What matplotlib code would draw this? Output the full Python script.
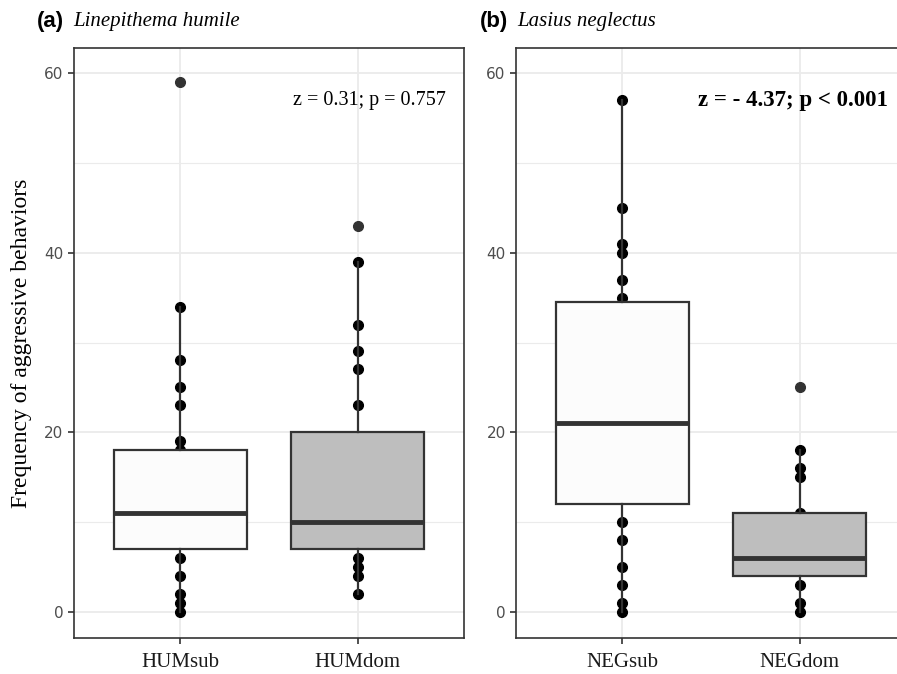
import matplotlib
matplotlib.use('Agg')
import matplotlib.pyplot as plt

# Valeurs
hum_labels = ['HUMsub', 'HUMdom']
neg_labels = ['NEGsub', 'NEGdom']

# statistiques des boîtes: q1, médiane, q3, moustache basse, moustache haute
hum_q1 = [7, 7]
hum_med = [11, 10]
hum_q3 = [18, 20]
hum_wlo = [0, 2]
hum_whi = [34, 39]
hum_out = [[59], [43]]

neg_q1 = [12, 4]
neg_med = [21, 6]
neg_q3 = [34.5, 11]
neg_wlo = [0, 0]
neg_whi = [57, 18]
neg_out = [[], [25]]

# points individuels visibles
hum_sub_pts = [0, 1, 2, 4, 6, 18, 19, 23, 25, 28, 34]
hum_dom_pts = [2, 4, 5, 6, 23, 27, 29, 32, 39]
neg_sub_pts = [0, 1, 3, 5, 8, 10, 35, 37, 40, 41, 45, 57]
neg_dom_pts = [0, 1, 3, 11, 15, 16, 18]

hum_note = 'z = 0.31; p = 0.757'
neg_note = 'z = - 4.37; p < 0.001'

fills = ['#FCFCFC', '#BEBEBE']
dark = '#333333'


def draw_panel(ax, labels, q1, med, q3, wlo, whi, outl, pts, note, bold):
    stats = []
    for i in range(len(labels)):
        stats.append({'q1': q1[i], 'med': med[i], 'q3': q3[i],
                      'whislo': wlo[i], 'whishi': whi[i], 'fliers': outl[i]})
    # points sous les boîtes
    for i, p in enumerate(pts):
        ax.plot([i + 1] * len(p), p, 'o', color='black', ms=7, zorder=2)
    bp = ax.bxp(stats, positions=[1, 2], widths=0.75, patch_artist=True,
                showcaps=False, zorder=3,
                boxprops=dict(edgecolor=dark, linewidth=1.6),
                whiskerprops=dict(color=dark, linewidth=1.6),
                medianprops=dict(color=dark, linewidth=3.5),
                flierprops=dict(marker='o', markerfacecolor=dark,
                                markeredgecolor=dark, markersize=7))
    for patch, c in zip(bp['boxes'], fills):
        patch.set_facecolor(c)

    ax.set_xlim(0.4, 2.6)
    ax.set_ylim(-2.93, 62.85)
    ax.set_xticks([1, 2])
    ax.set_yticks([0, 20, 40, 60])
    ax.set_yticks([10, 30, 50], minor=True)
    ax.tick_params(axis='y', which='minor', length=0)
    ax.tick_params(axis='both', which='major', length=4, width=1.2,
                   color=dark)
    ax.tick_params(axis='y', labelcolor='#4D4D4D', labelsize=11)
    ax.set_xticklabels(labels, fontfamily='Liberation Serif', fontsize=15,
                       color='#1A1A1A')
    ax.tick_params(axis='x', pad=7)
    ax.grid(True, which='major', color='#EBEBEB', linewidth=1.3, zorder=0)
    ax.grid(True, which='minor', axis='y', color='#EBEBEB', linewidth=0.8,
            zorder=0)
    ax.set_axisbelow(True)
    for s in ax.spines.values():
        s.set_color(dark)
        s.set_linewidth(1.2)
    ax.text(2.5, 57, note, ha='right', va='center',
            fontfamily='Liberation Serif', fontsize=16.5 if bold else 14.5,
            fontweight='bold' if bold else 'normal', zorder=5)


fig = plt.figure(figsize=(8.97, 6.74), dpi=100)
ax1 = fig.add_axes([0.0825, 0.0534, 0.4348, 0.8758])
ax2 = fig.add_axes([0.5753, 0.0534, 0.4348, 0.8758])

draw_panel(ax1, hum_labels, hum_q1, hum_med, hum_q3, hum_wlo, hum_whi,
           hum_out, [hum_sub_pts, hum_dom_pts], hum_note, False)
draw_panel(ax2, neg_labels, neg_q1, neg_med, neg_q3, neg_wlo, neg_whi,
           neg_out, [neg_sub_pts, neg_dom_pts], neg_note, True)

ax1.set_ylabel('Frequency of aggressive behaviors',
               fontfamily='Liberation Serif', fontsize=17, labelpad=9)

# titres des panneaux
fig.text(37 / 897, 0.968, '(a)', fontfamily='Liberation Sans',
         fontweight='bold', fontsize=16, va='center')
fig.text(73 / 897, 0.968, 'Linepithema humile', fontfamily='Liberation Serif',
         style='italic', fontsize=15, va='center')
fig.text(480 / 897, 0.968, '(b)', fontfamily='Liberation Sans',
         fontweight='bold', fontsize=16, va='center')
fig.text(517 / 897, 0.968, 'Lasius neglectus', fontfamily='Liberation Serif',
         style='italic', fontsize=15, va='center')

fig.savefig('out.png', dpi=100)
